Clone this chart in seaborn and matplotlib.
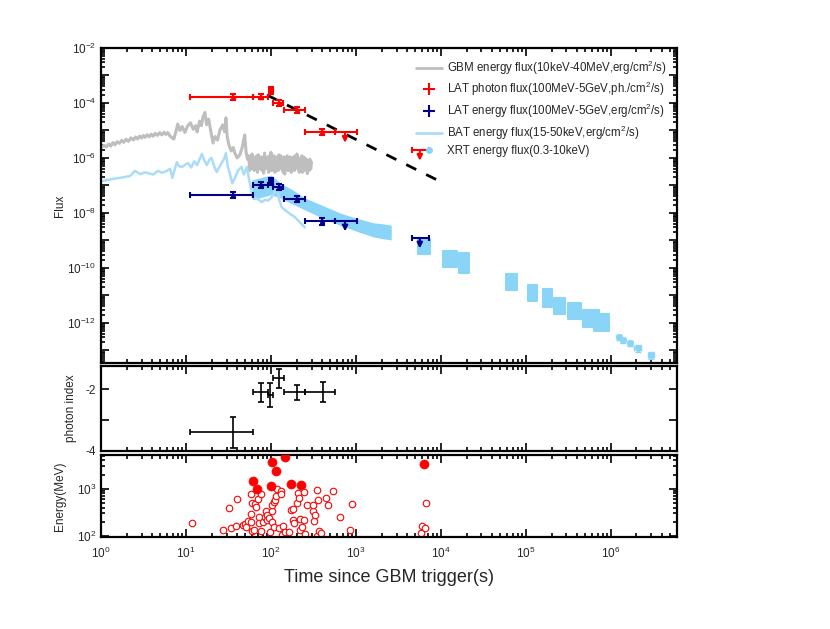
import numpy as np
import matplotlib
matplotlib.use('Agg')
import matplotlib.pyplot as plt
import seaborn as sns
from matplotlib.lines import Line2D
from matplotlib.ticker import LogLocator, FixedLocator, FuncFormatter, NullFormatter

# ---------------- data ----------------
# GBM energy flux light curve: rise / prompt part
gbm_t_rise = [1.0, 1.08, 1.15, 1.23, 1.3, 1.38, 1.46, 1.55, 1.65, 1.75,
              1.85, 1.97, 2.1, 2.25, 2.4, 2.55, 2.7, 2.85, 3.0, 3.15,
              3.3, 3.5, 3.7, 3.9, 4.1, 4.35, 4.6, 4.9, 5.2, 5.5,
              5.8, 6.1, 6.4, 6.8, 7.2, 7.6, 8.0, 8.5, 9.0, 9.7,
              10.5, 11.3, 12.2, 13.0, 13.5, 14.5, 15.2, 15.8, 16.7, 17.5,
              18.5, 19.5, 20.8, 22, 23.5, 25, 27, 28.5, 29.5, 30.5,
              32, 34, 36, 37.6, 40, 43, 46, 49, 51, 53]
gbm_f_rise = [2.3e-6, 2.9e-6, 2.5e-6, 3.2e-6, 2.7e-6, 3.6e-6, 3.0e-6, 3.9e-6, 3.4e-6, 4.4e-6,
              3.7e-6, 4.8e-6, 4.0e-6, 5.4e-6, 4.5e-6, 5.8e-6, 4.9e-6, 6.3e-6, 5.3e-6, 6.6e-6,
              5.6e-6, 7.0e-6, 5.9e-6, 7.3e-6, 6.2e-6, 7.8e-6, 6.6e-6, 8.3e-6, 6.9e-6, 8.6e-6,
              7.2e-6, 8.4e-6, 6.6e-6, 5.5e-6, 4.9e-6, 9.0e-6, 1.7e-5, 1.0e-5, 1.4e-5, 8.5e-6,
              1.5e-5, 1.9e-5, 1.1e-5, 1.5e-5, 8.9e-6, 2.2e-5, 1.5e-5, 3.0e-5, 4.5e-5, 1.6e-5,
              2.6e-5, 1.0e-5, 3.5e-6, 6.0e-6, 4.5e-6, 1.0e-5, 1.6e-5, 9.0e-6, 2.9e-5, 6.0e-6,
              3.0e-6, 1.8e-6, 2.4e-6, 1.5e-6, 1.0e-6, 1.3e-6, 2.5e-6, 6.9e-6, 1.6e-6, 9.0e-7]
# GBM noisy tail
gbm_t_tail = [55, 56, 57, 58.5, 60, 61, 62, 63.5, 65, 66.5,
              68, 69.5, 71, 72.5, 74, 75.5, 77, 78.5, 80, 82,
              84, 86, 88, 90, 92, 94, 96, 98, 100, 102,
              104, 106.5, 109, 111.5, 114, 116.5, 119, 121.5, 124, 127,
              130, 133, 136, 139, 142, 145, 148, 151.5, 155, 158.5,
              162, 165.5, 169, 173, 177, 181, 185, 189, 193, 197.5,
              202, 206.5, 211, 215.5, 220, 225, 230, 235, 240, 245.5,
              251, 256.5, 262, 268, 274, 280.5, 287, 293.5, 300]
gbm_f_tail = [1.2e-6, 3.5e-7, 9e-7, 4e-7, 1.4e-6, 5e-7, 1.1e-6, 3.5e-7, 1.0e-6, 4.5e-7,
              1.2e-6, 3e-7, 1.3e-6, 5e-7, 8e-7, 4e-7, 1.1e-6, 3.5e-7, 9e-7, 2.8e-7,
              1.5e-6, 4e-7, 1.0e-6, 5e-7, 1.1e-6, 3e-7, 1.2e-6, 4e-7, 1.6e-6, 3.5e-7,
              9e-7, 4e-7, 1.2e-6, 3e-7, 1.0e-6, 4.5e-7, 1.1e-6, 3.5e-7, 1.3e-6, 5e-7,
              1.2e-6, 4e-7, 9e-7, 3e-7, 1.1e-6, 2.6e-7, 1.0e-6, 4e-7, 1.2e-6, 3.5e-7,
              1.0e-6, 4.5e-7, 1.1e-6, 3e-7, 9e-7, 4e-7, 1.1e-6, 3.5e-7, 1.2e-6, 4.5e-7,
              1.4e-6, 4e-7, 1.0e-6, 3e-7, 9e-7, 4e-7, 1.2e-6, 3e-7, 1.1e-6, 3.5e-7,
              1.0e-6, 4e-7, 9e-7, 2.7e-7, 8e-7, 3.5e-7, 9e-7, 4e-7, 7e-7]

# BAT energy flux light curve
bat_t = [1.0, 2.2, 2.5, 2.9, 3.3, 3.6, 4.1, 4.7, 5.2, 5.7, 6.5, 6.9, 7.8, 8.3, 9.0, 10,
         10.6, 11.5, 12.5, 13.5, 15.4, 16.5, 17.6, 19, 20, 21.5, 23, 25, 26.5, 28, 29.5,
         31, 33, 35, 38, 41, 45, 48, 52, 55, 58, 61, 66, 72, 78, 85, 92, 100, 108, 117,
         125, 134, 150, 170, 192, 220, 250]
bat_f = [1.45e-7, 2.2e-7, 3.4e-7, 2.6e-7, 3.0e-7, 2.8e-7, 2.5e-7, 3.4e-7, 2.9e-7, 3.2e-7,
         4.0e-7, 1.9e-7, 7.0e-7, 5.0e-7, 4.7e-7, 6.0e-7, 6.5e-7, 4.5e-7, 7.5e-7, 5.5e-7,
         1.4e-6, 8.0e-7, 5.5e-7, 9.0e-7, 1.0e-6, 5.0e-7, 3.1e-7, 5.0e-7, 7.0e-7, 9.0e-7,
         1.5e-6, 5.0e-7, 2.5e-7, 1.2e-7, 2.0e-7, 3.5e-7, 4.7e-7, 2.5e-7, 4.7e-7, 1.8e-7,
         8.0e-8, 4.0e-8, 3.5e-8, 3.0e-8, 2.5e-8, 3.0e-8, 2.8e-8, 3.5e-8, 5.0e-8, 1.05e-7,
         3.0e-8, 1.6e-8, 1.2e-8, 9.0e-9, 7.0e-9, 4.5e-9, 3.0e-9]

# XRT windowed-timing band (upper / lower envelope)
xrt_wt_t = [60, 100, 130, 180, 250, 400, 650, 1000, 1600, 2100, 2600]
xrt_wt_hi = [1.6e-7, 2.4e-7, 1.2e-7, 6.9e-8, 3.5e-8, 1.9e-8, 1.0e-8, 6.5e-9, 4.4e-9, 4.0e-9, 3.6e-9]
xrt_wt_lo = [3.0e-8, 4.6e-8, 3.5e-8, 2.1e-8, 1.3e-8, 6.6e-9, 3.6e-9, 2.2e-9, 1.35e-9, 1.15e-9, 1.05e-9]

# XRT photon-counting clusters
xrt_pc_tlo = [5300, 10500, 16100, 59000, 107000, 158000, 212000, 316000, 465000, 635000]
xrt_pc_thi = [7400, 15400, 21400, 78000, 134000, 203000, 288000, 445000, 725000, 955000]
xrt_pc_flo = [3.2e-10, 1.1e-10, 6.6e-11, 1.6e-11, 6.3e-12, 3.9e-12, 2.15e-12, 1.45e-12, 7.3e-13, 5.2e-13]
xrt_pc_fhi = [1.1e-9, 4.1e-10, 3.4e-10, 6.0e-11, 2.5e-11, 1.7e-11, 8.0e-12, 5.2e-12, 2.9e-12, 2.1e-12]

# XRT late single points
xrt_late_t = [1.24e6, 1.37e6, 1.67e6, 2.06e6, 3.0e6]
xrt_late_f = [3.1e-13, 2.4e-13, 1.9e-13, 1.2e-13, 6.9e-14]
xrt_late_terr = [0.6e5, 0.6e5, 0.8e5, 1.8e5, 2.4e5]
xrt_late_ferr = [0.6e-13, 0.5e-13, 0.4e-13, 0.35e-13, 0.2e-13]

# LAT time bins
lat_t = [36, 76, 100, 124, 202, 398]
lat_tlo = [11, 61, 95, 105, 142, 251]
lat_thi = [61, 92, 105, 138, 251, 566]

# LAT photon flux
lat_ph_f = [1.66e-4, 1.70e-4, 2.9e-4, 1.0e-4, 5.6e-5, 8.9e-6]
lat_ph_flo = [1.30e-4, 1.35e-4, 2.2e-4, 7.8e-5, 4.5e-5, 6.8e-6]
lat_ph_fhi = [2.10e-4, 2.15e-4, 3.8e-4, 1.3e-4, 7.0e-5, 1.15e-5]

# LAT energy flux
lat_en_f = [4.5e-8, 1.05e-7, 1.35e-7, 8.9e-8, 3.2e-8, 5.1e-9]
lat_en_flo = [3.6e-8, 8.0e-8, 1.0e-7, 6.8e-8, 2.5e-8, 3.8e-9]
lat_en_fhi = [5.6e-8, 1.35e-7, 1.8e-7, 1.15e-7, 4.1e-8, 6.8e-9]

# LAT upper limits
ul_t = [744, 5640]
ul_tlo = [566, 4560]
ul_thi = [1030, 7240]
ul_ph_f = [8.5e-6, 1.9e-6]
ul_en_f = [5.1e-9, 1.23e-9]

# power-law decay line
pl_t = [90, 1.0e4]
pl_f = [1.94e-4, 1.35e-7]

# photon index
idx_t = [36, 76, 98, 124, 202, 407]
idx_tlo = [11, 61, 92, 105, 142, 251]
idx_thi = [61, 92, 105, 142, 251, 566]
idx_val = [-3.4, -2.1, -2.19, -1.65, -2.1, -2.1]
idx_err = [0.5, 0.3, 0.38, 0.3, 0.25, 0.33]

# photon energies
big_t = [62, 69, 99, 102, 114, 145, 173, 225, 6300]
big_e = [1480, 990, 1160, 3640, 2340, 4700, 1250, 1200, 3300]
small_t = [11.7, 27.5, 34, 32, 39, 40, 47, 50, 51, 54, 58, 58, 59, 63, 58, 59, 64, 66, 71,
           76, 73, 73, 76, 81, 84, 87, 90, 90, 95, 98, 102, 102, 102, 108, 110, 112, 118,
           116, 124, 132, 132, 135, 138, 145, 165, 171, 180, 184, 188, 201, 208, 211, 218,
           220, 230, 243, 246, 252, 263, 311, 315, 322, 329, 344, 344, 359, 364, 393, 449,
           464, 542, 641, 847, 896, 5800, 6060, 6500, 6760]
small_e = [189, 134, 150, 395, 163, 600, 171, 180, 155, 205, 202, 294, 126, 132, 771, 495,
           472, 408, 593, 771, 249, 192, 126, 202, 257, 330, 280, 219, 238, 123, 330, 457,
           202, 520, 158, 583, 968, 687, 146, 891, 758, 103, 166, 123, 120, 357, 369, 219,
           192, 495, 822, 631, 226, 136, 158, 835, 219, 110, 442, 330, 442, 212, 276, 952,
           100, 565, 130, 114, 631, 442, 878, 249, 134, 479, 118, 166, 150, 488]

# ---------------- style ----------------
sns.set_style('ticks')
plt.rcParams['font.family'] = ['Liberation Sans', 'DejaVu Sans']
plt.rcParams['mathtext.fontset'] = 'custom'
plt.rcParams['mathtext.rm'] = 'Liberation Sans'
plt.rcParams['mathtext.it'] = 'Liberation Sans:italic'
plt.rcParams['mathtext.bf'] = 'Liberation Sans:bold'

RED = '#ff0000'
NAVY = '#00008b'
GRAY = '#bebebe'
BAT_C = '#aadcfa'
XRT_C = '#8ad4f8'

fig = plt.figure(figsize=(8.3, 6.29), dpi=100)
ax1 = fig.add_axes([0.1217, 0.4229, 0.694, 0.5008])
ax2 = fig.add_axes([0.1217, 0.2830, 0.694, 0.1351])
ax3 = fig.add_axes([0.1217, 0.1463, 0.694, 0.1304])


def pow_fmt(v, pos):
    return r'$10^{%d}$' % int(round(np.log10(v)))


def style_axis(ax):
    ax.set_xscale('log')
    ax.set_xlim(1, 6e6)
    ax.xaxis.set_major_locator(LogLocator(base=10, numticks=30))
    ax.xaxis.set_minor_locator(LogLocator(base=10, subs=np.arange(2, 10), numticks=60))
    ax.tick_params(which='both', direction='in', top=True, right=True, width=1.2,
                   labelsize=8.5, color='black')
    ax.tick_params(which='major', length=5.5)
    ax.tick_params(which='minor', length=3)
    for s in ax.spines.values():
        s.set_linewidth(1.6)
        s.set_color('black')


# ---------------- main flux panel ----------------
ax1.set_xscale('log')
ax1.set_yscale('log')
ax1.fill_between(xrt_wt_t, xrt_wt_lo, xrt_wt_hi, color=XRT_C, lw=0, zorder=1)
for tl, th, fl, fh in zip(xrt_pc_tlo, xrt_pc_thi, xrt_pc_flo, xrt_pc_fhi):
    ax1.fill_between([tl, th], [fl, fl], [fh, fh], facecolor=XRT_C, edgecolor=XRT_C,
                     lw=1.5, joinstyle='round', zorder=1)
ax1.errorbar(xrt_late_t, xrt_late_f, xerr=xrt_late_terr, yerr=xrt_late_ferr, fmt='o',
             ms=4, color=XRT_C, ecolor=XRT_C, elinewidth=1, capsize=2.5, zorder=1)

sns.lineplot(x=gbm_t_rise + gbm_t_tail, y=gbm_f_rise + gbm_f_tail, ax=ax1, color=GRAY,
             lw=2.2, estimator=None, sort=False, zorder=2)
sns.lineplot(x=bat_t, y=bat_f, ax=ax1, color=BAT_C, lw=1.8, estimator=None, sort=False, zorder=2)
ax1.plot(pl_t, pl_f, color='black', lw=2, ls=(0, (4, 4)), zorder=3)

for f, flo, fhi, ulf, c in [(lat_ph_f, lat_ph_flo, lat_ph_fhi, ul_ph_f, RED),
                            (lat_en_f, lat_en_flo, lat_en_fhi, ul_en_f, NAVY)]:
    xerr = [np.subtract(lat_t, lat_tlo), np.subtract(lat_thi, lat_t)]
    yerr = [np.subtract(f, flo), np.subtract(fhi, f)]
    ax1.errorbar(lat_t, f, xerr=xerr, yerr=yerr, fmt='^', ms=3, color=c, ecolor=c,
                 elinewidth=1.5, capsize=2.2, capthick=1.5, zorder=4)
    uxerr = [np.subtract(ul_t, ul_tlo), np.subtract(ul_thi, ul_t)]
    ax1.errorbar(ul_t, ulf, xerr=uxerr, fmt='none', ecolor=c, elinewidth=1.5,
                 capsize=2.2, capthick=1.5, zorder=4)
    for tt, ff in zip(ul_t, ulf):
        ax1.annotate('', xy=(tt, ff * 0.42), xytext=(tt, ff),
                     arrowprops=dict(arrowstyle='-|>', color=c, lw=1.5,
                                     mutation_scale=8, shrinkA=0, shrinkB=0), zorder=4)

style_axis(ax1)
ax1.set_ylim(3.5e-14, 1e-2)
ax1.yaxis.set_major_locator(FixedLocator([10.0 ** k for k in range(-13, -1)]))
ax1.yaxis.set_minor_locator(LogLocator(base=10, subs=np.arange(2, 10), numticks=60))
ax1.yaxis.set_major_formatter(FuncFormatter(
    lambda v, p: pow_fmt(v, p) if int(round(np.log10(v))) % 2 == 0 else ''))
ax1.yaxis.set_minor_formatter(NullFormatter())
ax1.xaxis.set_major_formatter(NullFormatter())
ax1.set_ylabel('Flux', fontsize=8.5)
ax1.yaxis.set_label_coords(-0.06, 0.5)

handles = [
    Line2D([], [], color=GRAY, lw=2),
    Line2D([], [], color=RED, marker='+', ls='none', ms=9, mew=1.5),
    Line2D([], [], color=NAVY, marker='+', ls='none', ms=9, mew=1.5),
    Line2D([], [], color=BAT_C, lw=2),
    Line2D([], [], color=XRT_C, marker='o', ls='none', ms=4),
]
labels = [
    'GBM energy flux(10keV-40MeV,erg/cm$^2$/s)',
    'LAT photon flux(100MeV-5GeV,ph./cm$^2$/s)',
    'LAT energy flux(100MeV-5GeV,erg/cm$^2$/s)',
    'BAT energy flux(15-50keV,erg/cm$^2$/s)',
    'XRT energy flux(0.3-10keV)',
]
ax1.legend(handles, labels, loc='upper right', frameon=False, fontsize=8.3,
           labelspacing=0.3, handlelength=2.3, handletextpad=0.4,
           borderaxespad=0.5, bbox_to_anchor=(1.0, 1.0))

# ---------------- photon index panel ----------------
ax2.errorbar(idx_t, idx_val,
             xerr=[np.subtract(idx_t, idx_tlo), np.subtract(idx_thi, idx_t)],
             yerr=idx_err, fmt='none', ecolor='black', elinewidth=1.2,
             capsize=2, capthick=1.2)
style_axis(ax2)
ax2.set_ylim(-4, -1.25)
ax2.yaxis.set_major_locator(FixedLocator([-4, -3, -2]))
ax2.yaxis.set_major_formatter(FuncFormatter(lambda v, p: '' if round(v) == -3 else '%d' % round(v)))
ax2.xaxis.set_major_formatter(NullFormatter())
ax2.set_ylabel('photon index', fontsize=8.5)
ax2.yaxis.set_label_coords(-0.042, 0.5)

# ---------------- photon energy panel ----------------
sns.scatterplot(x=small_t, y=small_e, ax=ax3, s=22, facecolor='white',
                edgecolor=RED, linewidth=0.8, zorder=2)
sns.scatterplot(x=big_t, y=big_e, ax=ax3, s=42, color=RED, edgecolor=RED,
                linewidth=0.5, zorder=3)
style_axis(ax3)
ax3.set_yscale('log')
ax3.set_ylim(95, 5200)
ax3.yaxis.set_major_locator(FixedLocator([100, 1000]))
ax3.yaxis.set_minor_locator(LogLocator(base=10, subs=np.arange(2, 10), numticks=20))
ax3.yaxis.set_major_formatter(FuncFormatter(pow_fmt))
ax3.yaxis.set_minor_formatter(NullFormatter())
ax3.xaxis.set_major_formatter(FuncFormatter(pow_fmt))
ax3.xaxis.set_minor_formatter(NullFormatter())
ax3.tick_params(axis='x', which='major', pad=6)
ax3.set_ylabel('Energy(MeV)', fontsize=8.5)
ax3.yaxis.set_label_coords(-0.06, 0.5)
ax3.set_xlabel('Time since GBM trigger(s)', fontsize=13, labelpad=6)

fig.savefig('out.png', dpi=100)
